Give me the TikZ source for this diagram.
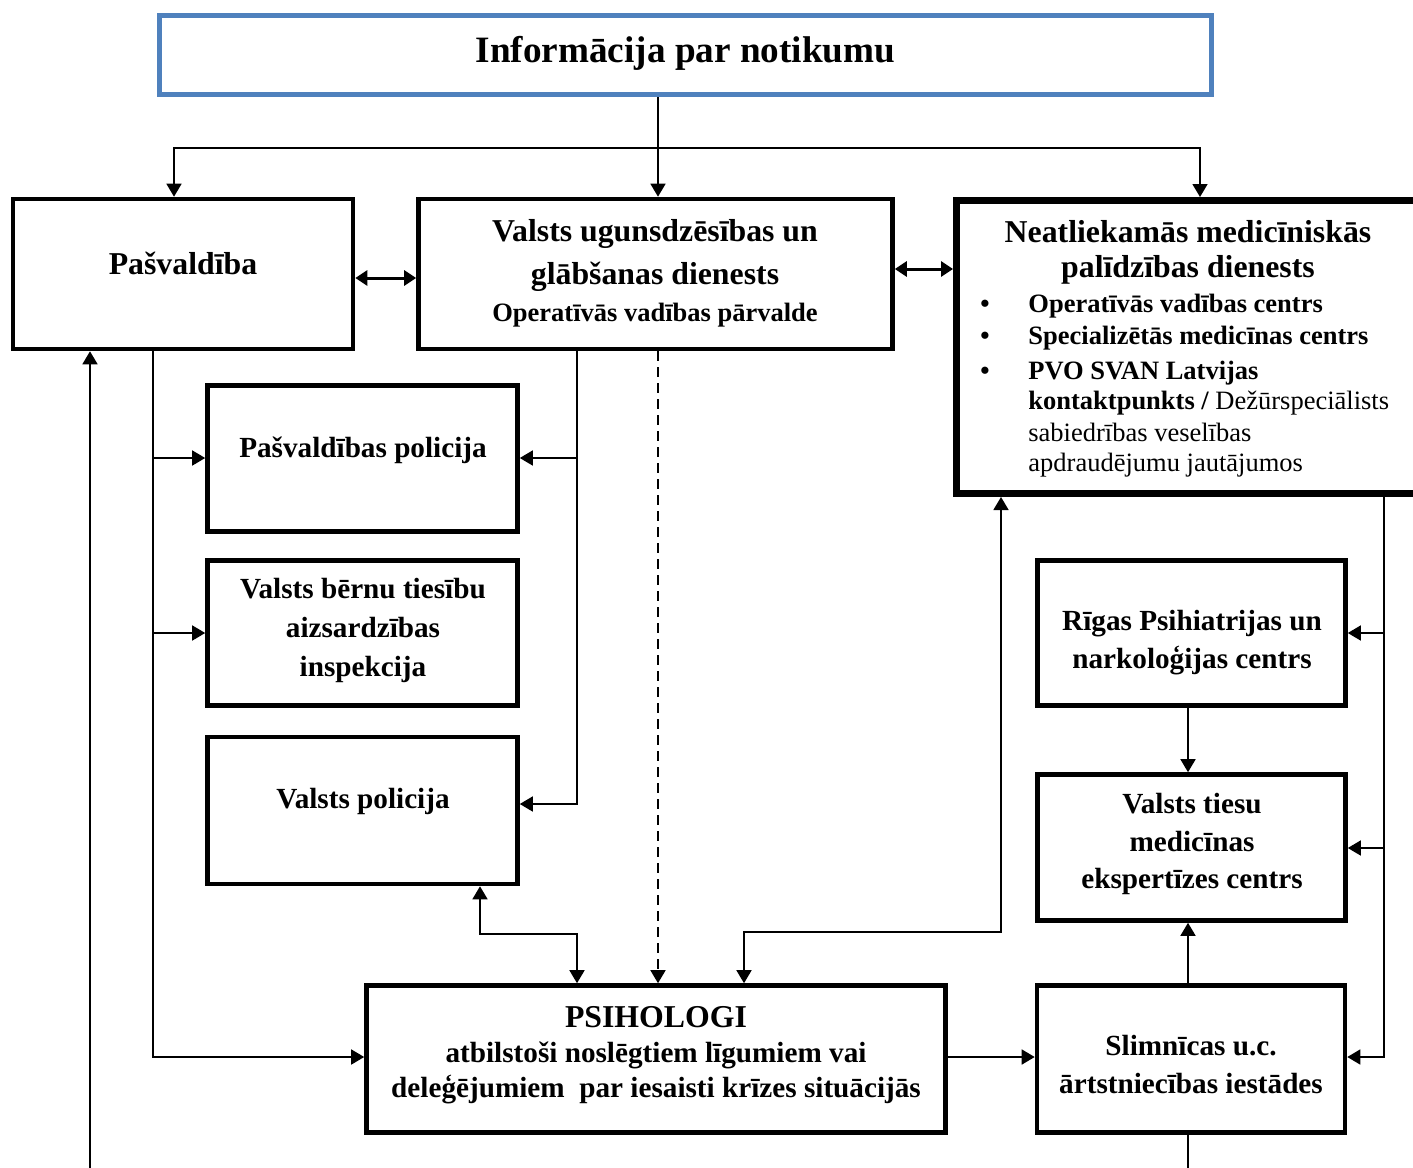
\documentclass[tikz,border=0pt]{standalone}
\usepackage{fontspec}
\setmainfont{Liberation Serif}
\usetikzlibrary{arrows.meta}
\definecolor{infoblue}{RGB}{79,129,189}
\newcommand\fntInfo{\fontsize{18.6pt}{22pt}\selectfont\bfseries}
\newcommand\fntTitle{\fontsize{15.9pt}{19pt}\selectfont\bfseries}
\newcommand\fntBox{\fontsize{14.6pt}{17.5pt}\selectfont\bfseries}
\newcommand\fntSub{\fontsize{13.25pt}{16pt}\selectfont\bfseries}
\newcommand\fntPlain{\fontsize{13.25pt}{16pt}\selectfont\mdseries}
\begin{document}
\begin{tikzpicture}[x=0.5pt,y=-0.5pt,
  box/.style={draw, rectangle, line width=2.3pt, inner sep=0pt},
  txt/.style={inner sep=0pt, anchor=base},
  txtl/.style={inner sep=0pt, anchor=base west},
  conn/.style={line width=0.8pt},
  arr/.style={conn, -{Triangle[length=6.5pt,width=7.5pt]}},
  dblthin/.style={conn, {Triangle[length=6.5pt,width=7.5pt]}-{Triangle[length=6.5pt,width=7.5pt]}},
  dbl/.style={line width=1.5pt, {Triangle[length=6pt,width=7.5pt]}-{Triangle[length=6pt,width=7.5pt]}}
]
\clip (0,0) rectangle (1413,1167);
\fill[white] (0,0) rectangle (1413,1167);

% boxes
\node[box, draw=infoblue, line width=2.5pt, minimum width=526pt, minimum height=39.5pt] (info) at (685.5,55) {};
\node[box, minimum width=170pt, minimum height=75pt] (pasv) at (183,274) {};
\node[box, minimum width=237pt, minimum height=75pt] (vugd) at (655.5,274) {};
\node[box, line width=3.5pt, minimum width=236.75pt, minimum height=146.5pt] (nmpd) at (1193.25,347) {};
\node[box, minimum width=155pt, minimum height=73pt] (ppol) at (362.5,458.5) {};
\node[box, minimum width=155pt, minimum height=72.5pt] (vbtai) at (362.5,633) {};
\node[box, minimum width=155pt, minimum height=73.5pt] (vpol) at (362.5,810.5) {};
\node[box, minimum width=154pt, minimum height=72.5pt] (rigas) at (1191.5,633) {};
\node[box, minimum width=154pt, minimum height=73pt] (vtmec) at (1191.5,847.5) {};
\node[box, minimum width=289.5pt, minimum height=73.5pt] (psih) at (656,1059) {};
\node[box, minimum width=154pt, minimum height=73.5pt] (slim) at (1191,1059) {};

% texts
\node[txt, font=\fntInfo] (tInfo) at (685.5,62) {Informācija par notikumu};
\node[txt, font=\fntTitle] (tPasv) at (183,274) {Pašvaldība};
\node[txt, font=\fntTitle] (tV1) at (655,241) {Valsts ugunsdzēsības un};
\node[txt, font=\fntTitle] (tV2) at (655,284) {glābšanas dienests};
\node[txt, font=\fntSub] (tV3) at (655,321) {Operatīvās vadības pārvalde};
\node[txt, font=\fntTitle] (tN1) at (1188,242) {Neatliekamās medicīniskās};
\node[txt, font=\fntTitle] (tN2) at (1188,277) {palīdzības dienests};
\node[txt, font=\fntSub] (bu1) at (985,312) {•};
\node[txt, font=\fntSub] (bu2) at (985,344) {•};
\node[txt, font=\fntSub] (bu3) at (985,379) {•};
\node[txtl, font=\fntSub] (tN3) at (1028,312) {Operatīvās vadības centrs};
\node[txtl, font=\fntSub] (tN4) at (1028,344) {Specializētās medicīnas centrs};
\node[txtl, font=\fntSub] (tN5) at (1028,379) {PVO SVAN Latvijas};
\node[txtl, font=\fntSub] (tN6) at (1028,409) {kontaktpunkts / {\mdseries Dežūrspeciālists}};
\node[txtl, font=\fntPlain] (tN7) at (1028,441) {sabiedrības veselības};
\node[txtl, font=\fntPlain] (tN8) at (1028,471) {apdraudējumu jautājumos};
\node[txt, font=\fntBox] (tP1) at (363,457) {Pašvaldības policija};
\node[txt, font=\fntBox] (tB1) at (363,598) {Valsts bērnu tiesību};
\node[txt, font=\fntBox] (tB2) at (363,637) {aizsardzības};
\node[txt, font=\fntBox] (tB3) at (363,676) {inspekcija};
\node[txt, font=\fntBox] (tVP) at (363,808) {Valsts policija};
\node[txt, font=\fntBox] (tR1) at (1192,630) {Rīgas Psihiatrijas un};
\node[txt, font=\fntBox] (tR2) at (1192,668) {narkoloģijas centrs};
\node[txt, font=\fntBox] (tT1) at (1192,813) {Valsts tiesu};
\node[txt, font=\fntBox] (tT2) at (1192,851) {medicīnas};
\node[txt, font=\fntBox] (tT3) at (1192,888) {ekspertīzes centrs};
\node[txt, font=\fntTitle] (tS1) at (656,1027) {PSIHOLOGI};
\node[txt, font=\fntBox] (tS2) at (656,1062) {atbilstoši noslēgtiem līgumiem vai};
\node[txt, font=\fntBox] (tS3) at (656,1097) {deleģējumiem\ \ par iesaisti krīzes situācijās};
\node[txt, font=\fntBox] (tL1) at (1191,1055) {Slimnīcas u.c.};
\node[txt, font=\fntBox] (tL2) at (1191,1093) {ārtstniecības iestādes};

% junctions and free ends
\coordinate (jTop) at (658,148);
\coordinate (jL1) at (153,458);
\coordinate (jL2) at (153,633);
\coordinate (jV1) at (577,458);
\coordinate (jR1) at (1384,633);
\coordinate (jR2) at (1384,848);
\coordinate (bl) at (90,1175);
\coordinate (br) at (1188,1175);

% connectors
\draw[arr] (info.south -| 658,0) -- (vugd.north -| 658,0);
\draw[arr] (jTop) -| (pasv.north -| 174,0);
\draw[arr] (jTop) -| (nmpd.north -| 1200,0);
\draw[dbl] (pasv.east |- 0,278) -- (vugd.west |- 0,278);
\draw[dbl] (vugd.east |- 0,269) -- (nmpd.west |- 0,269);

\draw[arr] (pasv.south -| 153,0) |- (psih.west |- 0,1057);
\draw[arr] (jL1) -- (ppol.west |- jL1);
\draw[arr] (jL2) -- (vbtai.west |- jL2);

\draw[arr] (vugd.south -| 577,0) |- (vpol.east |- 0,804);
\draw[arr] (jV1) -- (ppol.east |- jV1);

\draw[arr, dashed, dash pattern=on 5pt off 3pt] (vugd.south -| 658,0) -- (psih.north -| 658,0);

\draw[dblthin] (vpol.south -| 480,0) -- (480,934) -| (psih.north -| 577,0);
\draw[dblthin] (nmpd.south -| 1001,0) -- (1001,932) -| (psih.north -| 744,0);

\draw[arr] (psih.east |- 0,1057) -- (slim.west |- 0,1057);
\draw[arr] (slim.north -| 1188,0) -- (vtmec.south -| 1188,0);
\draw[arr] (rigas.south -| 1188,0) -- (vtmec.north -| 1188,0);

\draw[arr] (nmpd.south -| 1384,0) |- (slim.east |- 0,1057);
\draw[arr] (jR1) -- (rigas.east |- jR1);
\draw[arr] (jR2) -- (vtmec.east |- jR2);

\draw[arr] (bl) -- (pasv.south -| bl);
\draw[conn] (slim.south -| br) -- (br);
\end{tikzpicture}
\end{document}
